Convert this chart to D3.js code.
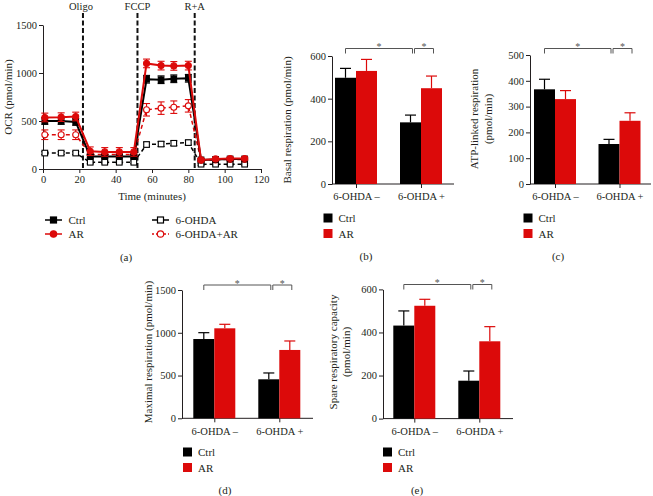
<!DOCTYPE html>
<html><head><meta charset="utf-8">
<script src="https://cdn.jsdelivr.net/npm/d3@7/dist/d3.min.js"></script>
<style>body{margin:0;background:#fff}svg{display:block}text{font-family:"Liberation Serif","Times New Roman",serif;fill:#231f20}</style>
</head><body><svg id="c" width="653" height="496"></svg>
<script>
// ---- Panel (a) data ----
const times = [1,10,18,26,34,42,50,57,65,72,80,87,95,103,111];
const ctrlOCR = [500,500,490,130,130,130,130,935,930,940,945,95,100,105,105];
const arOCR = [537,540,547,185,178,178,178,1100,1077,1074,1077,95,105,110,110];
const ohdaOCR = [166,166,166,70,70,70,70,255,260,268,275,50,50,50,50];
const ohdaArOCR = [357,357,357,150,150,150,150,617,634,644,658,90,95,100,100];
const ctrlErr = [35,35,35,20,20,20,20,40,40,40,40,10,10,10,10];
const arErr = [45,45,45,45,45,45,45,45,45,45,45,15,15,15,15];
const ohdaErr = [15,15,15,15,15,15,15,25,25,25,25,10,10,10,10];
const ohdaArErr = [50,50,50,30,30,30,30,65,65,65,65,15,15,15,15];
const injections = ["Oligo","FCCP","R+A"];
const injectionTimes = [22,52,83.5];
const xTicksA = [0,20,40,60,80,100,120];
const yTicksA = [0,500,1000,1500];

// ---- Bar panels data ----
const categories = ["6-OHDA –","6-OHDA +"];
const basalCtrl = [498,289], basalAR = [530,449], basalCtrlErr = [44,34], basalARErr = [54,57];
const atpCtrl = [367,155], atpAR = [329,245], atpCtrlErr = [39,18], atpARErr = [33,31];
const maxCtrl = [927,456], maxAR = [1052,799], maxCtrlErr = [74,74], maxARErr = [47,105];
const spareCtrl = [432,176], spareAR = [524,359], spareCtrlErr = [68,45], spareARErr = [30,68];
const basalTicks = [0,200,400,600], atpTicks = [0,100,200,300,400,500],
      maxTicks = [0,500,1000,1500], spareTicks = [0,200,400,600];

const RED = "#dc0a0a", BLACK = "#000";
const svg = d3.select("#c");
const fmt = d3.format("d");

// ================= Panel (a) =================
(function(){
  const x = d3.scaleLinear([0,120],[43,261]);
  const y = d3.scaleLinear([0,1500],[169,25]);
  const g = svg.append("g");
  const xa = g.append("g").attr("transform","translate(0,169)")
    .call(d3.axisBottom(x).tickValues(xTicksA).tickFormat(fmt).tickSize(4).tickSizeOuter(0).tickPadding(3));
  const ya = g.append("g").attr("transform","translate(43,0)")
    .call(d3.axisLeft(y).tickValues(yTicksA).tickFormat(fmt).tickSize(4).tickSizeOuter(0).tickPadding(2));
  [xa,ya].forEach(a=>{a.selectAll("text").style("font-size","10.5px").style("font-family","Liberation Serif");
    a.selectAll("path,line").attr("stroke","#231f20");});
  g.append("text").attr("transform","translate(12,97) rotate(-90)").attr("text-anchor","middle")
    .style("font-size","11px").text("OCR (pmol/min)");
  g.append("text").attr("x",152).attr("y",200).attr("text-anchor","middle").style("font-size","11px").text("Time (minutes)");
  // injections
  injectionTimes.forEach((t,i)=>{
    g.append("line").attr("x1",x(t)).attr("x2",x(t)).attr("y1",13).attr("y2",169)
      .attr("stroke","#111").attr("stroke-width",2).attr("stroke-dasharray","5,2.5");
    g.append("text").attr("x",x(t)-(i==0?2:0)).attr("y",10).attr("text-anchor","middle").style("font-size","10.5px").text(injections[i]);
  });
  const series = [
    {v:ohdaOCR,e:ohdaErr,c:BLACK,dash:"4,3",w:1.5,shape:"sq",fill:"#fff"},
    {v:ohdaArOCR,e:ohdaArErr,c:RED,dash:"4,3",w:1.5,shape:"ci",fill:"#fff"},
    {v:ctrlOCR,e:ctrlErr,c:BLACK,dash:null,w:2,shape:"sq",fill:BLACK},
    {v:arOCR,e:arErr,c:RED,dash:null,w:2,shape:"ci",fill:RED}
  ];
  const line = d3.line().x((d,i)=>x(times[i])).y(d=>y(d));
  series.forEach(s=>{
    const sg = g.append("g");
    s.v.forEach((d,i)=>{
      const cx=x(times[i]);
      sg.append("line").attr("x1",cx).attr("x2",cx).attr("y1",y(d+s.e[i])).attr("y2",y(d-s.e[i])).attr("stroke",s.c).attr("stroke-width",1.1);
      [d+s.e[i],d-s.e[i]].forEach(v=>sg.append("line").attr("x1",cx-3.5).attr("x2",cx+3.5).attr("y1",y(v)).attr("y2",y(v)).attr("stroke",s.c).attr("stroke-width",1.1));
    });
    sg.append("path").attr("d",line(s.v)).attr("fill","none").attr("stroke",s.c).attr("stroke-width",s.w)
      .attr("stroke-dasharray",s.dash);
    s.v.forEach((d,i)=>{
      const cx=x(times[i]), cy=y(d);
      if(s.shape=="sq") sg.append("rect").attr("x",cx-2.8).attr("y",cy-2.8).attr("width",5.6).attr("height",5.6)
        .attr("fill",s.fill).attr("stroke",s.c).attr("stroke-width",1.1);
      else sg.append("circle").attr("cx",cx).attr("cy",cy).attr("r",3).attr("fill",s.fill).attr("stroke",s.c).attr("stroke-width",1.1);
    });
  });
  // legend
  const leg = [
    {t:"Ctrl",x:45,y:220,c:BLACK,dash:null,shape:"sq",fill:BLACK},
    {t:"AR",x:45,y:234,c:RED,dash:null,shape:"ci",fill:RED},
    {t:"6-OHDA",x:152,y:220,c:BLACK,dash:null,shape:"sq",fill:"#fff"},
    {t:"6-OHDA+AR",x:152,y:234,c:RED,dash:"2,2",shape:"ci",fill:"#fff"}
  ];
  leg.forEach(l=>{
    g.append("line").attr("x1",l.x).attr("x2",l.x+17).attr("y1",l.y).attr("y2",l.y).attr("stroke",l.c).attr("stroke-width",1.5).attr("stroke-dasharray",l.dash);
    if(l.shape=="sq") g.append("rect").attr("x",l.x+5.5).attr("y",l.y-3).attr("width",6).attr("height",6).attr("fill",l.fill).attr("stroke",l.c).attr("stroke-width",1.2);
    else g.append("circle").attr("cx",l.x+8.5).attr("cy",l.y).attr("r",3.2).attr("fill",l.fill).attr("stroke",l.c).attr("stroke-width",1.2);
    g.append("text").attr("x",l.x+23.5).attr("y",l.y+4).style("font-size","11px").text(l.t);
  });
  g.append("text").attr("x",126).attr("y",261).attr("text-anchor","middle").style("font-size","11px").text("(a)");
})();

// ================= Bar panels =================
function barPanel(o){
  const g = svg.append("g");
  const y = d3.scaleLinear([0,o.max],[o.y0,o.yTop]);
  const x = d3.scalePoint(categories,[o.c1,o.c2]);
  const bw = 21;
  // axes
  const ya = g.append("g").attr("transform",`translate(${o.ax},0)`)
    .call(d3.axisLeft(y).tickValues(o.ticks).tickFormat(fmt).tickSize(4).tickSizeOuter(0).tickPadding(2));
  const xa = g.append("g").attr("transform",`translate(0,${o.y0})`)
    .call(d3.axisBottom(x).tickSize(4).tickSizeOuter(0).tickPadding(5));
  xa.select(".domain").remove();
  g.append("line").attr("x1",o.ax).attr("x2",o.axEnd).attr("y1",o.y0).attr("y2",o.y0).attr("stroke","#231f20");
  [xa,ya].forEach(a=>{a.selectAll("text").style("font-size","10.5px").style("font-family","Liberation Serif");
    a.selectAll("path,line").attr("stroke","#231f20");});
  // bars
  const groups = [{v:o.ctrl,e:o.ctrlErr,c:BLACK,off:-bw},{v:o.ar,e:o.arErr,c:RED,off:0}];
  groups.forEach(s=>{
    categories.forEach((cat,i)=>{
      const bx = x(cat)+s.off, cx = bx+bw/2;
      g.append("line").attr("x1",cx).attr("x2",cx).attr("y1",y(s.v[i])).attr("y2",y(s.v[i]+s.e[i])).attr("stroke",s.c).attr("stroke-width",1.2);
      g.append("line").attr("x1",cx-5.5).attr("x2",cx+5.5).attr("y1",y(s.v[i]+s.e[i])).attr("y2",y(s.v[i]+s.e[i])).attr("stroke",s.c).attr("stroke-width",1.2);
      g.append("rect").attr("x",bx).attr("y",y(s.v[i])).attr("width",bw).attr("height",o.y0-y(s.v[i])).attr("fill",s.c);
    });
  });
  // significance brackets
  const c1c = x(categories[0])-bw/2, c2c = x(categories[1])-bw/2, a2c = x(categories[1])+bw/2;
  const bt = o.bTop;
  const br = [[c1c,c2c+2],[c2c+4,a2c+2]];
  br.forEach(b=>{
    g.append("path").attr("d",`M${b[0]},${bt+5}V${bt}H${b[1]}V${bt+5}`).attr("fill","none").attr("stroke","#555").attr("stroke-width",1);
    g.append("text").attr("x",(b[0]+b[1])/2).attr("y",bt+1.5).attr("text-anchor","middle").style("font-size","10px").style("fill","#555").text("*");
  });
  // y label
  o.label.forEach((t,i)=>{
    g.append("text").attr("transform",`translate(${o.lx[i]},${o.ly}) rotate(-90)`).attr("text-anchor","middle")
      .style("font-size","11px").text(t);
  });
  // legend
  [["Ctrl",BLACK],["AR",RED]].forEach((l,i)=>{
    const ly = o.legY + i*15.5;
    g.append("rect").attr("x",o.legX).attr("y",ly-4.5).attr("width",9).attr("height",9).attr("fill",l[1]);
    g.append("text").attr("x",o.legX+15).attr("y",ly+4).style("font-size","11px").text(l[0]);
  });
  g.append("text").attr("x",o.capX).attr("y",o.capY).attr("text-anchor","middle").style("font-size","11px").text(o.cap);
}

barPanel({ctrl:basalCtrl,ar:basalAR,ctrlErr:basalCtrlErr,arErr:basalARErr,max:600,ticks:basalTicks,
  ax:332,axEnd:454,c1:356,c2:421,y0:184,yTop:56,bTop:48.5,label:["Basal respiration (pmol/min)"],lx:[291],ly:120,
  legX:323.5,legY:218,capX:366,capY:260,cap:"(b)"});
barPanel({ctrl:atpCtrl,ar:atpAR,ctrlErr:atpCtrlErr,arErr:atpARErr,max:500,ticks:atpTicks,
  ax:530,axEnd:651,c1:555,c2:619.5,y0:184,yTop:55,bTop:48.5,label:["ATP-linked respiration","(pmol/min)"],lx:[478,492],ly:119,
  legX:523.5,legY:218,capX:558,capY:260,cap:"(c)"});
barPanel({ctrl:maxCtrl,ar:maxAR,ctrlErr:maxCtrlErr,arErr:maxARErr,max:1500,ticks:maxTicks,
  ax:182,axEnd:313,c1:214.3,c2:279.3,y0:418.3,yTop:290,bTop:285,label:["Maximal respiration (pmol/min)"],lx:[152],ly:352,
  legX:183,legY:452,capX:225,capY:494,cap:"(d)"});
barPanel({ctrl:spareCtrl,ar:spareAR,ctrlErr:spareCtrlErr,arErr:spareARErr,max:600,ticks:spareTicks,
  ax:383,axEnd:513,c1:414.3,c2:479.3,y0:418.6,yTop:289.4,bTop:284.5,label:["Spare respiratory capacity","(pmol/min)"],lx:[337,350],ly:352,
  legX:383,legY:452,capX:417,capY:494,cap:"(e)"});
</script></body></html>
